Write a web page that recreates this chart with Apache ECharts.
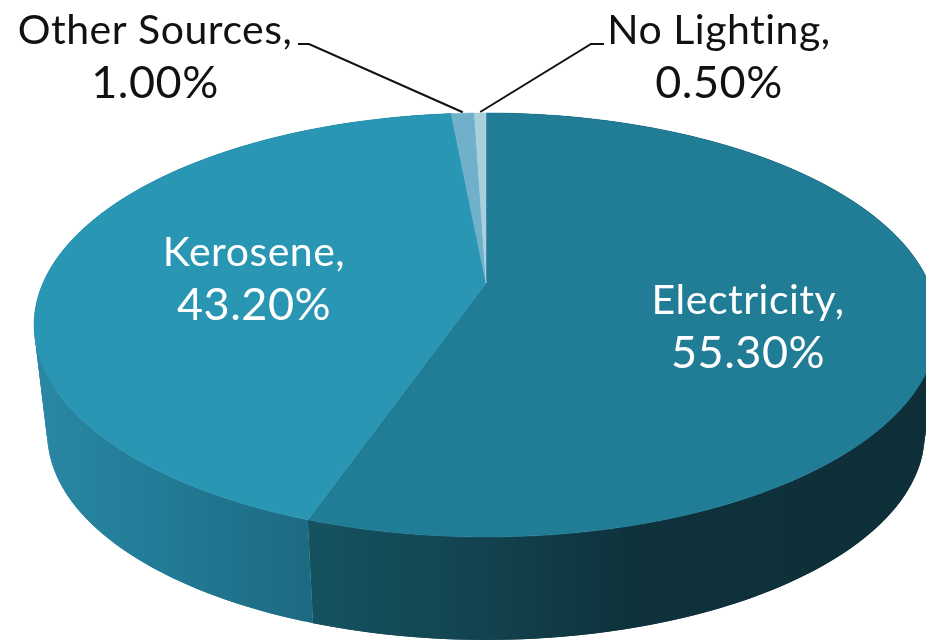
<!DOCTYPE html>
<html>
<head>
<meta charset="utf-8">
<style>
  html, body { margin: 0; padding: 0; background: #fff; }
  #main { width: 926px; height: 640px; }
</style>
<script src="https://cdn.jsdelivr.net/npm/echarts@6/dist/echarts.min.js"></script>
</head>
<body>
<div id="main"></div>
<script>
// values
const categories = ['Electricity', 'Kerosene', 'Other Sources', 'No Lighting'];
const shares = [55.3, 43.2, 1.0, 0.5];

const topColors = ['#217c96', '#2996b4', '#71b0ca', '#aad0de'];
const labelColors = ['#ffffff', '#ffffff', '#111111', '#111111'];

// disc seen in perspective: a circle pushed through a projective map
const TOP = { cx: 486, cy: 283, a: 443, b: 203.7, k: 0.198 };
const BOTTOM = { cx: 486, cy: 393, a: 430, b: 198, k: 0.198 };

const FONT = 'Lato, "Open Sans", sans-serif';
const labelPos = [[748, 327], [254, 279], [155, 57], [719, 57]];
const leaderEnds = [null, null, [[309, 44], [298, 44]], [[591, 44], [604, 44]]];

const wallStops = [
    [[314, '#15525f'], [470, '#124450'], [640, '#0e313b'], [926, '#0e2f38']],
    [[40, '#2a87a3'], [150, '#237c97'], [312, '#1c6a81']]
];

const total = shares.reduce((s, v) => s + v, 0);

function project(disc, deg) {
    // 0 deg is 12 o'clock, clockwise
    const t = deg * Math.PI / 180;
    const x = Math.sin(t), y = -Math.cos(t);
    const d = 1 - disc.k * y;
    return [disc.cx + disc.a * x / d, disc.cy + disc.b * y / d];
}

function sliceAngles(i) {
    let before = 0;
    for (let j = 0; j < i; j++) before += shares[j];
    return [before / total * 360, (before + shares[i]) / total * 360];
}

function arc(disc, from, to) {
    const pts = [];
    const n = Math.max(2, Math.ceil((to - from) / 0.5));
    for (let s = 0; s <= n; s++) pts.push(project(disc, from + (to - from) * s / n));
    return pts;
}

function renderWall(params, api) {
    const i = api.value(0);
    if (!wallStops[i]) return null;
    const [from, to] = sliceAngles(i);
    const stops = wallStops[i];
    const x0 = stops[0][0], x1 = stops[stops.length - 1][0];
    const fill = {
        type: 'linear', global: true, x: x0, y: 0, x2: x1, y2: 0,
        colorStops: stops.map(s => ({ offset: (s[0] - x0) / (x1 - x0), color: s[1] }))
    };
    // overlapping quads so the outline also covers the tangent part at the sides
    const children = [];
    const step = 1;
    for (let t = from; t < to; t += step) {
        const end = Math.min(to, t + step * 2);
        children.push({
            type: 'polygon',
            silent: true,
            shape: { points: [project(TOP, t), project(TOP, end), project(BOTTOM, end), project(BOTTOM, t)] },
            style: { fill: fill }
        });
    }
    return { type: 'group', children: children };
}

function renderTop(params, api) {
    const i = api.value(0);
    const [from, to] = sliceAngles(i);
    return {
        type: 'polygon',
        silent: true,
        shape: { points: [[TOP.cx, TOP.cy]].concat(arc(TOP, from, to)) },
        style: { fill: topColors[i], stroke: topColors[i], lineWidth: 0.5 }
    };
}

function renderLabel(params, api) {
    const i = api.value(0);
    const children = [{
        type: 'text',
        silent: true,
        x: labelPos[i][0],
        y: labelPos[i][1],
        style: {
            text: '{n|' + categories[i] + ',}\n{v|' + api.value(1).toFixed(2) + '%}',
            fill: labelColors[i],
            align: 'center',
            verticalAlign: 'middle',
            rich: {
                n: { fontFamily: FONT, fontSize: 41, lineHeight: 53, fill: labelColors[i] },
                v: { fontFamily: FONT, fontSize: 45, lineHeight: 53, fill: labelColors[i] }
            }
        }
    }];
    if (leaderEnds[i]) {
        const [from, to] = sliceAngles(i);
        const tip = project(TOP, (from + to) / 2);
        children.push({
            type: 'polyline',
            silent: true,
            shape: { points: [[tip[0], tip[1] - 1]].concat(leaderEnds[i]) },
            style: { stroke: '#111111', lineWidth: 2, fill: null }
        });
    }
    return { type: 'group', children: children };
}

const seriesData = shares.map((v, i) => [i, v]);
const option = {
    animation: false,
    backgroundColor: '#ffffff',
    tooltip: { show: false },
    series: [
        { type: 'custom', name: 'wall', coordinateSystem: 'none', z: 1, data: seriesData, renderItem: renderWall },
        { type: 'custom', name: 'top', coordinateSystem: 'none', z: 2, data: seriesData, renderItem: renderTop },
        { type: 'custom', name: 'labels', coordinateSystem: 'none', z: 3, data: seriesData, renderItem: renderLabel }
    ]
};

const chart = echarts.init(document.getElementById('main'));
chart.setOption(option);

// no "ti" ligature and slightly looser text, the picture's face is wider than Lato
const ctx = chart.getDom().querySelector('canvas').getContext('2d');
ctx.textRendering = 'optimizeSpeed';
ctx.letterSpacing = '0.5px';
chart.setOption(option, true);
</script>
</body>
</html>
